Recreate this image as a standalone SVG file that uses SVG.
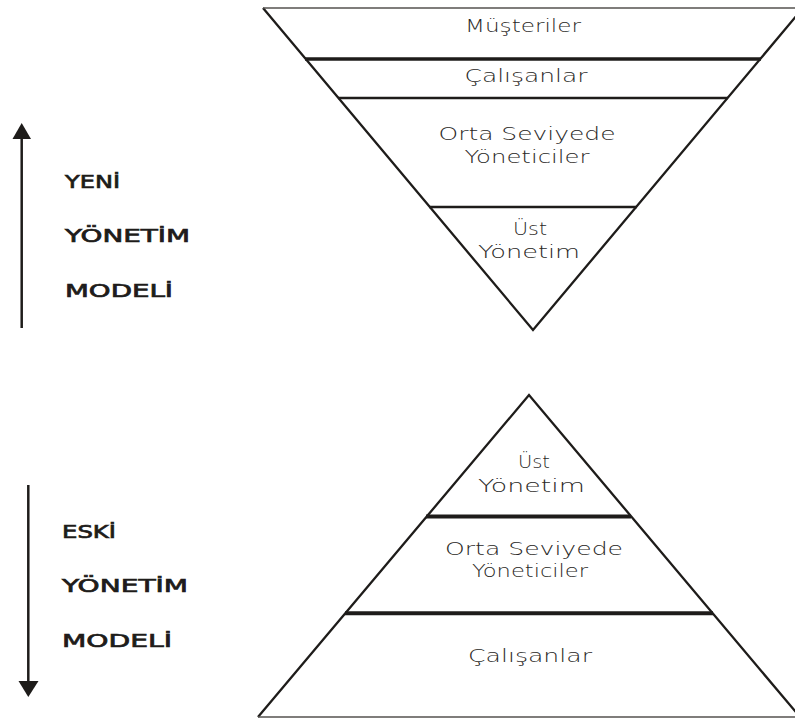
<svg xmlns="http://www.w3.org/2000/svg" width="795" height="722" viewBox="0 0 795 722">
  <style>
    .edge { fill: none; stroke: #1e1c1a; stroke-width: 2.3; stroke-linejoin: miter; }
    .base { fill: none; stroke: #55524f; stroke-width: 1.6; }
    .div { stroke: #1e1c1a; }
    .tier { font-family: "DejaVu Sans", "Liberation Sans", sans-serif; font-size: 18px; font-weight: 200; fill: #2a2826; text-anchor: middle; }
    .side { font-family: "DejaVu Sans", "Liberation Sans", sans-serif; font-size: 18px; font-weight: normal; fill: #1e1c1a; stroke: #1e1c1a; stroke-width: 0.7; }
    .shaft { stroke: #1e1c1a; stroke-width: 2.5; }
    .head { fill: #1e1c1a; }
  </style>

  <!-- Inverted pyramid: new management model -->
  <g id="new-model">
    <path class="edge" d="M263,8 L533,330 L803,8"/>
    <line class="base" x1="263" y1="8" x2="803" y2="8"/>
    <line class="div" x1="305" y1="59" x2="761" y2="59" stroke-width="3.5"/>
    <line class="div" x1="338" y1="98" x2="728" y2="98" stroke-width="2.5"/>
    <line class="div" x1="429" y1="207" x2="637" y2="207" stroke-width="2.5"/>
    <g id="new-musteriler">
      <text class="tier" x="523" y="31.5" textLength="116" lengthAdjust="spacingAndGlyphs">Müşteriler</text>
    </g>
    <g id="new-calisanlar">
      <text class="tier" x="526" y="81.5" textLength="123" lengthAdjust="spacingAndGlyphs">Çalışanlar</text>
    </g>
    <g id="new-orta">
      <text class="tier" x="527" y="140" textLength="177" lengthAdjust="spacingAndGlyphs">Orta Seviyede</text>
      <text class="tier" x="527" y="163.3" textLength="125" lengthAdjust="spacingAndGlyphs">Yöneticiler</text>
    </g>
    <g id="new-ust">
      <text class="tier" x="530" y="235" textLength="34" lengthAdjust="spacingAndGlyphs">Üst</text>
      <text class="tier" x="529" y="258.3" textLength="102" lengthAdjust="spacingAndGlyphs">Yönetim</text>
    </g>
  </g>

  <!-- Upright pyramid: old management model -->
  <g id="old-model">
    <path class="edge" d="M258,717 L529,395 L800,717"/>
    <line class="base" x1="258" y1="717" x2="800" y2="717"/>
    <line class="div" x1="426" y1="516.5" x2="631" y2="516.5" stroke-width="4"/>
    <line class="div" x1="345" y1="613.3" x2="713" y2="613.3" stroke-width="4"/>
    <g id="old-ust">
      <text class="tier" x="534" y="468.3" textLength="32" lengthAdjust="spacingAndGlyphs">Üst</text>
      <text class="tier" x="531.5" y="491.7" textLength="107" lengthAdjust="spacingAndGlyphs">Yönetim</text>
    </g>
    <g id="old-orta">
      <text class="tier" x="534" y="555" textLength="178" lengthAdjust="spacingAndGlyphs">Orta Seviyede</text>
      <text class="tier" x="530" y="576.7" textLength="116" lengthAdjust="spacingAndGlyphs">Yöneticiler</text>
    </g>
    <g id="old-calisanlar">
      <text class="tier" x="530" y="661.7" textLength="124" lengthAdjust="spacingAndGlyphs">Çalışanlar</text>
    </g>
  </g>

  <!-- Side captions -->
  <g id="caption-new">
    <text class="side" x="65" y="188" textLength="55" lengthAdjust="spacingAndGlyphs">YENİ</text>
    <text class="side" x="65" y="241.7" textLength="125" lengthAdjust="spacingAndGlyphs">YÖNETİM</text>
    <text class="side" x="65" y="296.7" textLength="108" lengthAdjust="spacingAndGlyphs">MODELİ</text>
  </g>
  <g id="caption-old">
    <text class="side" x="62" y="538.3" textLength="54" lengthAdjust="spacingAndGlyphs">ESKİ</text>
    <text class="side" x="62" y="591.7" textLength="126" lengthAdjust="spacingAndGlyphs">YÖNETİM</text>
    <text class="side" x="62" y="646.7" textLength="110" lengthAdjust="spacingAndGlyphs">MODELİ</text>
  </g>

  <!-- Direction arrows -->
  <g id="connectors">
    <line class="shaft" x1="21.7" y1="328" x2="21.7" y2="136"/>
    <polygon class="head" points="21.7,123 12.5,139 31,139"/>
    <line class="shaft" x1="28.3" y1="485" x2="28.3" y2="684"/>
    <polygon class="head" points="18.5,681 38.5,681 28.3,697"/>
  </g>
</svg>
